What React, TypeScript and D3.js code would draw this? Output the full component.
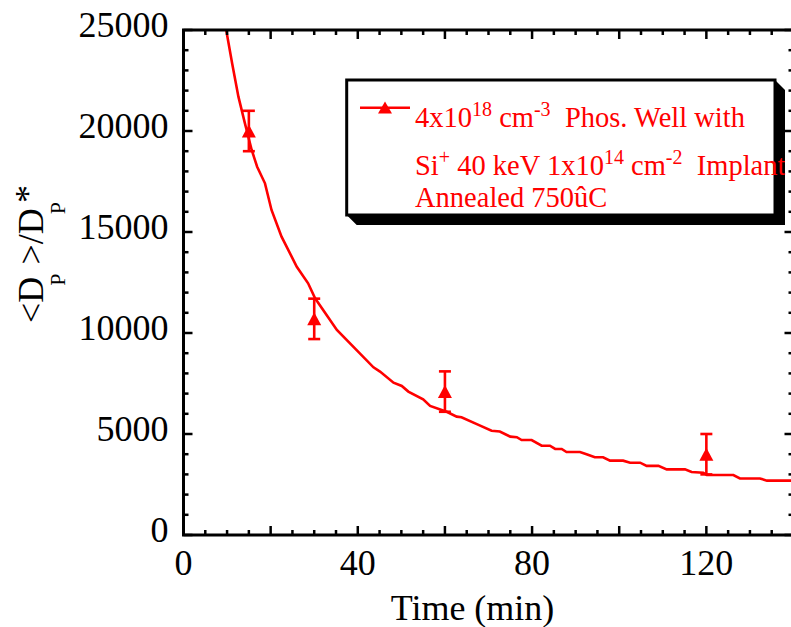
import React from "react";
import * as d3 from "d3";

// ---- data ----
const pointTimes = [15, 30, 60, 120];
const pointValues = [20000, 10700, 7100, 4000];
const pointErrors = [1000, 1000, 1000, 1000];

const curveTimes = [
  9.8, 11.2, 12.6, 14.1, 15.65, 16.9, 18.7, 20.2, 22.5, 26.0, 28.6, 30.2, 35.2,
  43.6, 45.1, 48.2, 50.1, 51.6, 55.0, 56.6, 60.4, 62.7, 63.8, 67.7, 70.7, 72.6,
  75.0, 76.5, 77.6, 79.9, 82.2, 84.1, 85.3, 86.8, 87.9, 91.0, 92.5, 94.4, 96.3,
  97.9, 100.9, 102.5, 104.8, 106.3, 109.0, 110.9, 115.1, 116.6, 119.3, 120.1,
  126.2, 127.7, 132.3, 133.9, 140,
];
const curveValues = [
  25000, 23300, 21700, 20380, 19060, 18230, 17410, 16090, 14770, 13280, 12460,
  11720, 10150, 8300, 8090, 7540, 7380, 7100, 6720, 6390, 6100, 5860, 5830,
  5450, 5160, 5120, 4870, 4840, 4700, 4700, 4420, 4420, 4260, 4260, 4110, 4110,
  4000, 3850, 3850, 3680, 3680, 3580, 3580, 3420, 3420, 3250, 3250, 3120, 3080,
  2970, 2970, 2800, 2800, 2690, 2690,
];

const xTickLabels = [0, 40, 80, 120];
const yTickLabels = [0, 5000, 10000, 15000, 20000, 25000];

const RED = "#ff0000";
const FONT = "'Liberation Serif', 'Times New Roman', serif";

export default function App() {
  const x0 = 183.5, x1 = 793.5, yTop = 30, yBot = 535;
  const x = d3.scaleLinear().domain([0, 140]).range([x0, x1]);
  const y = d3.scaleLinear().domain([0, 25000]).range([yBot, yTop]);

  const line = d3
    .line<number>()
    .x((_, i) => x(curveTimes[i]))
    .y((_, i) => y(curveValues[i]));
  const path = line(curveValues) || "";

  const xMinor = d3.range(0, 141, 5);
  const yMinor = d3.range(0, 25001, 1000);

  const majLen = 9, minLen = 5;

  const tri = (cx: number, cy: number, w: number, h: number) =>
    `M${cx},${cy - h / 2} L${cx + w / 2},${cy + h / 2} L${cx - w / 2},${cy + h / 2} Z`;

  return (
    <svg
      width={791}
      height={627}
      style={{ position: "absolute", left: 0, top: 0, background: "#fff" }}
      fontFamily={FONT}
    >
      <defs>
        <clipPath id="plotclip">
          <rect x={x0} y={yTop} width={x1 - x0} height={yBot - yTop} />
        </clipPath>
      </defs>

      {/* curve */}
      <path
        d={path}
        fill="none"
        stroke={RED}
        strokeWidth={2.6}
        clipPath="url(#plotclip)"
      />

      {/* data points with error bars */}
      {pointTimes.map((t, i) => {
        const cx = x(t);
        const cy = y(pointValues[i]);
        const yt = y(pointValues[i] + pointErrors[i]);
        const yb = y(pointValues[i] - pointErrors[i]);
        return (
          <g key={i}>
            <line x1={cx} x2={cx} y1={yt} y2={yb} stroke={RED} strokeWidth={2.6} />
            <line x1={cx - 6} x2={cx + 6} y1={yt} y2={yt} stroke={RED} strokeWidth={2.6} />
            <line x1={cx - 6} x2={cx + 6} y1={yb} y2={yb} stroke={RED} strokeWidth={2.6} />
            <path d={tri(cx, cy, 14, 13)} fill={RED} />
          </g>
        );
      })}

      {/* axis frame */}
      <rect
        x={x0}
        y={yTop}
        width={x1 - x0}
        height={yBot - yTop}
        fill="none"
        stroke="#000"
        strokeWidth={3}
      />

      {/* x ticks (bottom and top, inward) */}
      {xMinor.map((t) => {
        const len = t % 20 === 0 ? majLen : minLen;
        const px = x(t);
        return (
          <g key={"xt" + t}>
            <line x1={px} x2={px} y1={yBot} y2={yBot - len} stroke="#000" strokeWidth={2.5} />
            <line x1={px} x2={px} y1={yTop} y2={yTop + len} stroke="#000" strokeWidth={2.5} />
          </g>
        );
      })}

      {/* y ticks (left and right, inward) */}
      {yMinor.map((v) => {
        const len = v % 5000 === 0 ? majLen : minLen;
        const py = y(v);
        return (
          <g key={"yt" + v}>
            <line x1={x0} x2={x0 + len} y1={py} y2={py} stroke="#000" strokeWidth={2.5} />
            <line x1={x1} x2={x1 - len} y1={py} y2={py} stroke="#000" strokeWidth={2.5} />
          </g>
        );
      })}

      {/* x tick labels */}
      {xTickLabels.map((t) => (
        <text key={"xl" + t} x={x(t)} y={yBot + 40} fontSize={36} textAnchor="middle" fill="#000">
          {t}
        </text>
      ))}

      {/* y tick labels */}
      {yTickLabels.map((v) => (
        <text key={"yl" + v} x={168.5} y={y(v) + 6.7} fontSize={36} textAnchor="end" fill="#000">
          {v}
        </text>
      ))}

      {/* axis titles */}
      <text x={472.5} y={620} fontSize={36} textAnchor="middle" fill="#000">
        Time (min)
      </text>
      <text transform="translate(43,323) rotate(-90)" fontSize={36} fill="#000" xmlSpace="preserve">
        <tspan>&lt;D</tspan>
        <tspan fontSize={22} dx={-9} dy={22}>P</tspan>
        <tspan dy={-22}>{" >/D"}</tspan>
        <tspan fontSize={22} dx={-6} dy={22}>P</tspan>
        <tspan dx={-1} dy={-25}>*</tspan>
      </text>

      {/* legend box with shadow */}
      <path
        d="M775,80 L785,90 L785,225 L356.7,225 L346.7,215 Z"
        fill="#000"
      />
      <rect x={346.7} y={80} width={428.3} height={135} fill="#fff" stroke="#000" strokeWidth={3} />
      <line x1={360} x2={410} y1={107.7} y2={107.7} stroke={RED} strokeWidth={2.6} />
      <path d={tri(385, 107.5, 14, 12)} fill={RED} />

      <g fill={RED} fontSize={28.5}>
        <text x={415} y={126.7} xmlSpace="preserve">
          <tspan>4x10</tspan>
          <tspan fontSize={20} dy={-11}>18</tspan>
          <tspan dy={11}> cm</tspan>
          <tspan fontSize={20} dy={-11}>-3</tspan>
          <tspan dy={11}>{"  Phos. Well with"}</tspan>
        </text>
        <text x={415} y={175} xmlSpace="preserve">
          <tspan>Si</tspan>
          <tspan fontSize={20} dy={-11}>+</tspan>
          <tspan dy={11}> 40 keV 1x10</tspan>
          <tspan fontSize={20} dy={-11}>14</tspan>
          <tspan dy={11}> cm</tspan>
          <tspan fontSize={20} dy={-11}>-2</tspan>
          <tspan dy={11}>{"  Implant"}</tspan>
        </text>
        <text x={415} y={206.7}>Annealed 750ûC</text>
      </g>
    </svg>
  );
}
